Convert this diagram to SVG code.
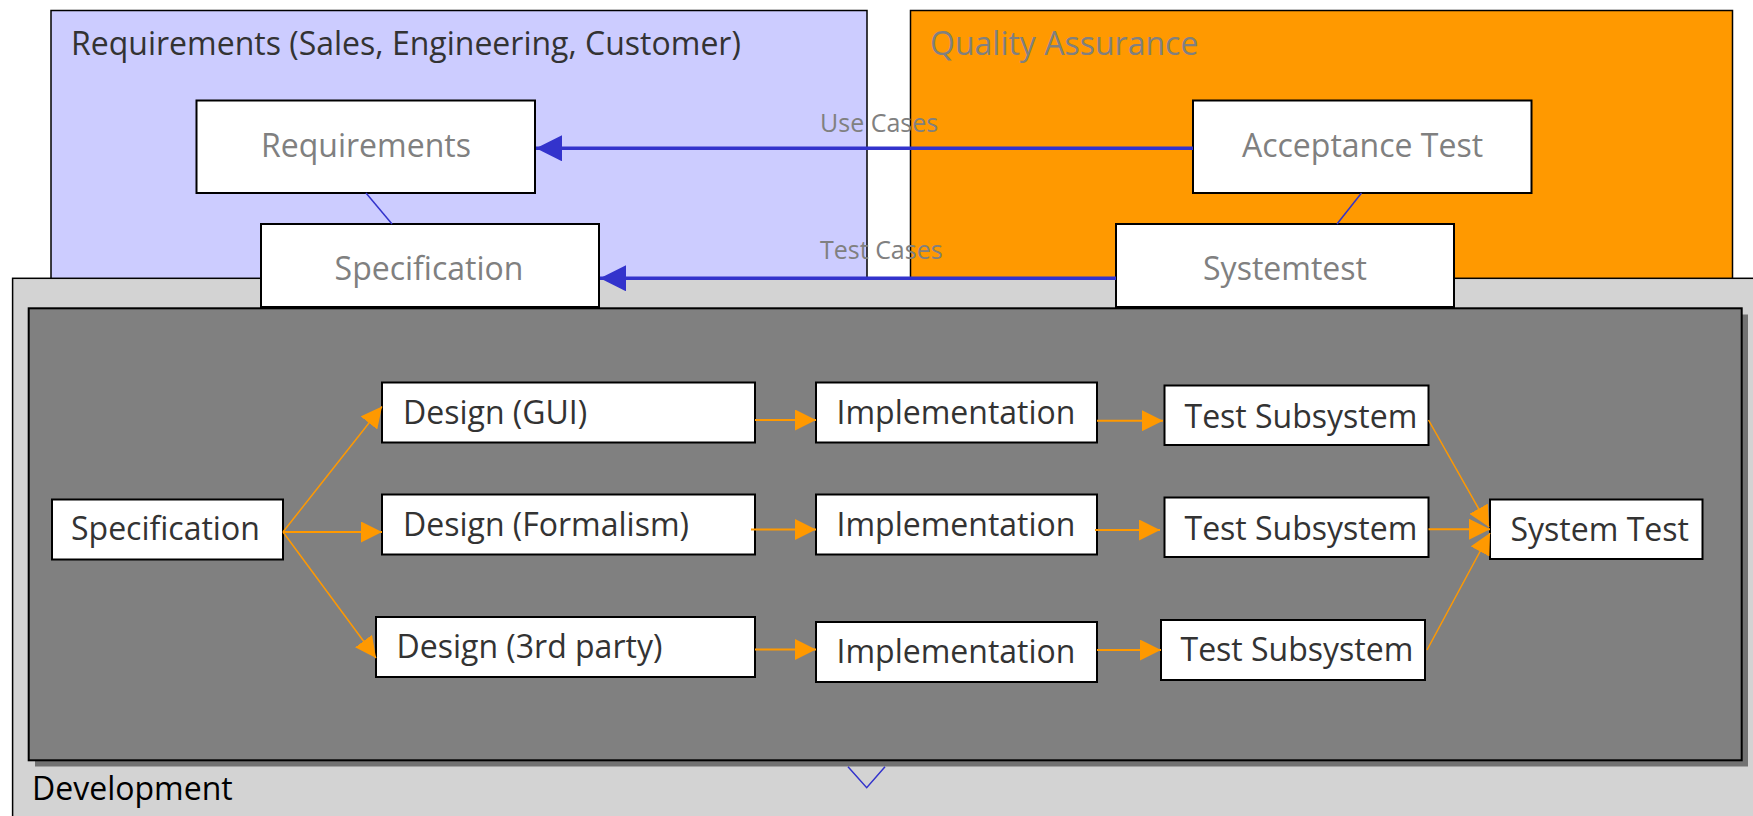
<svg xmlns="http://www.w3.org/2000/svg" width="1753" height="816" viewBox="0 0 1753 816">
<defs>
<style>
text{font-family:"Open Sans","Noto Sans","DejaVu Sans",sans-serif;}
.box{fill:#fff;stroke:#000;stroke-width:2;}
.big{font-size:32px;}
.grey{fill:#808080;}
.dark{fill:#333;}
.lbl{font-size:25px;fill:#808080;}
.blue{stroke:#3333cc;fill:none;}
.or{stroke:#ff9900;fill:none;}
</style>
<marker id="ah-blue" markerUnits="userSpaceOnUse" markerWidth="26" markerHeight="26" refX="26" refY="13" orient="auto" viewBox="0 0 26 26">
<path d="M0,0 L26,13 L0,26 z" fill="#3333cc"/>
</marker>
<marker id="ah-or" markerUnits="userSpaceOnUse" markerWidth="21" markerHeight="21" refX="21" refY="10.5" orient="auto" viewBox="0 0 21 21">
<path d="M0,0 L21,10.5 L0,21 z" fill="#ff9900"/>
</marker>
</defs>
<rect width="1753" height="816" fill="#fff"/>

<g id="req-container">
<rect x="51" y="10.5" width="816" height="290" fill="#ccccff" stroke="#000" stroke-width="1.5"/>
<text x="71" y="55" class="big dark">Requirements (Sales, Engineering, Customer)</text>
</g>
<g id="qa-container">
<rect x="910.5" y="10.5" width="822" height="290" fill="#ff9900" stroke="#000" stroke-width="1.5"/>
<text x="930" y="55" class="big grey">Quality Assurance</text>
</g>
<g id="dev-container">
<rect x="12.6" y="278.3" width="1760" height="560" fill="#d3d3d3" stroke="#000" stroke-width="1.5"/>
<rect x="35" y="314.5" width="1713" height="452" fill="#727272"/>
<rect x="28.7" y="308.3" width="1713" height="452" fill="#808080" stroke="#000" stroke-width="2"/>
<text x="32" y="800" class="big" fill="#000">Development</text>
</g>

<g id="requirements">
<rect x="196.5" y="100.5" width="338.5" height="92.5" class="box"/>
<text x="366" y="157" class="big grey" text-anchor="middle">Requirements</text>
</g>
<g id="acceptance-test">
<rect x="1193" y="100.5" width="338.5" height="92.5" class="box"/>
<text x="1362.5" y="157" class="big grey" text-anchor="middle">Acceptance Test</text>
</g>
<g id="specification-top">
<rect x="261" y="224" width="338" height="83" class="box"/>
<text x="429" y="280" class="big grey" text-anchor="middle">Specification</text>
</g>
<g id="systemtest">
<rect x="1116" y="224" width="338" height="83" class="box"/>
<text x="1285" y="280" class="big grey" text-anchor="middle">Systemtest</text>
</g>

<g id="specification">
<rect x="52" y="499.5" width="231" height="60" class="box"/>
<text x="71" y="540" class="big dark">Specification</text>
</g>
<g id="design-gui">
<rect x="382" y="382.5" width="373" height="60" class="box"/>
<text x="403" y="424" class="big dark">Design (GUI)</text>
</g>
<g id="design-formalism">
<rect x="382" y="494.5" width="373" height="60" class="box"/>
<text x="403" y="536" class="big dark">Design (Formalism)</text>
</g>
<g id="design-3rd">
<rect x="376" y="617" width="379" height="60" class="box"/>
<text x="396.5" y="657.5" class="big dark">Design (3rd party)</text>
</g>
<g id="impl-1">
<rect x="816" y="382.5" width="281" height="60" class="box"/>
<text x="836.5" y="424" class="big dark">Implementation</text>
</g>
<g id="impl-2">
<rect x="816" y="494.5" width="281" height="60" class="box"/>
<text x="836.5" y="536" class="big dark">Implementation</text>
</g>
<g id="impl-3">
<rect x="816" y="622" width="281" height="60" class="box"/>
<text x="836.5" y="662.5" class="big dark">Implementation</text>
</g>
<g id="test-sub-1">
<rect x="1164.5" y="385.5" width="264" height="59.5" class="box"/>
<text x="1184.5" y="427.5" class="big dark">Test Subsystem</text>
</g>
<g id="test-sub-2">
<rect x="1164.5" y="497.5" width="264" height="59.5" class="box"/>
<text x="1184.5" y="539.5" class="big dark">Test Subsystem</text>
</g>
<g id="test-sub-3">
<rect x="1161" y="620" width="264" height="60" class="box"/>
<text x="1180.5" y="660.5" class="big dark">Test Subsystem</text>
</g>
<g id="system-test">
<rect x="1490" y="499.5" width="212.5" height="59.5" class="box"/>
<text x="1510.5" y="540.5" class="big dark">System Test</text>
</g>

<g id="connectors">
<line x1="366" y1="193" x2="392" y2="224" class="blue" stroke-width="1.5"/>
<line x1="1361.5" y1="193" x2="1337" y2="224" class="blue" stroke-width="1.5"/>
<line x1="1193" y1="148.3" x2="536" y2="148.3" class="blue" stroke-width="3.5" marker-end="url(#ah-blue)"/>
<line x1="1116" y1="278.3" x2="600" y2="278.3" class="blue" stroke-width="3.5" marker-end="url(#ah-blue)"/>
<text x="820" y="132" class="lbl">Use Cases</text>
<text x="820" y="259" class="lbl">Test Cases</text>
<polyline points="848,766.7 866.7,787.7 885,766.7" class="blue" stroke-width="1.5"/>

<line x1="283" y1="532" x2="382" y2="406.5" class="or" stroke-width="1.5" marker-end="url(#ah-or)"/>
<line x1="283" y1="532" x2="382" y2="532" class="or" stroke-width="2" marker-end="url(#ah-or)"/>
<line x1="283" y1="532" x2="376" y2="658" class="or" stroke-width="1.5" marker-end="url(#ah-or)"/>
<line x1="755" y1="420" x2="816" y2="420" class="or" stroke-width="2" marker-end="url(#ah-or)"/>
<line x1="751" y1="529.5" x2="816" y2="529.5" class="or" stroke-width="2" marker-end="url(#ah-or)"/>
<line x1="755" y1="649.5" x2="816" y2="649.5" class="or" stroke-width="2" marker-end="url(#ah-or)"/>
<line x1="1097" y1="420.7" x2="1163" y2="420.7" class="or" stroke-width="2" marker-end="url(#ah-or)"/>
<line x1="1095" y1="530" x2="1160" y2="530" class="or" stroke-width="2" marker-end="url(#ah-or)"/>
<line x1="1097" y1="650" x2="1161" y2="650" class="or" stroke-width="2" marker-end="url(#ah-or)"/>
<line x1="1428.5" y1="420" x2="1489" y2="527" class="or" stroke-width="1.5" marker-end="url(#ah-or)"/>
<line x1="1428.5" y1="529.3" x2="1490" y2="529.3" class="or" stroke-width="2" marker-end="url(#ah-or)"/>
<line x1="1427" y1="650" x2="1490" y2="533" class="or" stroke-width="1.5" marker-end="url(#ah-or)"/>
</g>
</svg>
